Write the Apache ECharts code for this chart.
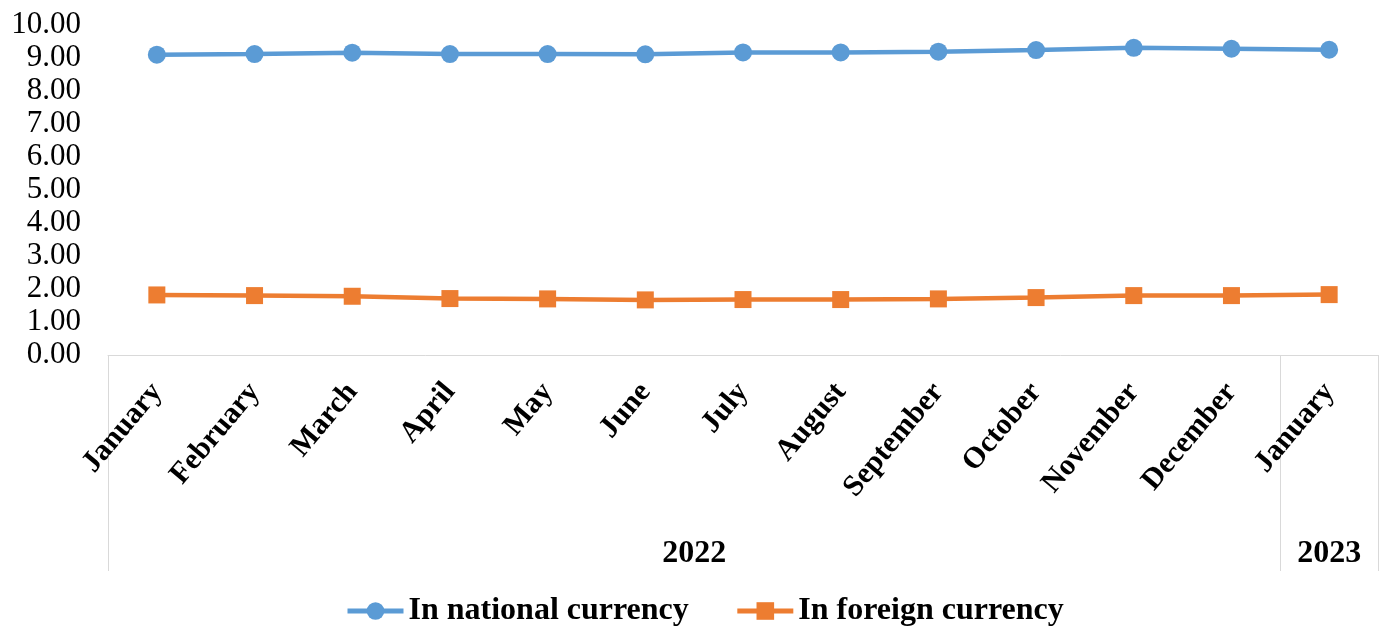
<!DOCTYPE html>
<html>
<head>
<meta charset="utf-8">
<script src="https://cdn.jsdelivr.net/npm/echarts@6/dist/echarts.min.js"></script>
<style>
  html, body { margin: 0; padding: 0; background: #fff; }
  #chart { width: 1383px; height: 626px; }
</style>
</head>
<body>
<div id="chart"></div>
<script>
// chart data
const months = ['January', 'February', 'March', 'April', 'May', 'June', 'July',
  'August', 'September', 'October', 'November', 'December', 'January'];
const years = ['2022', '2023'];
const monthsPerYear = [12, 1];
const nationalCurrency = [9.10, 9.12, 9.16, 9.12, 9.12, 9.11, 9.17, 9.17, 9.19, 9.24, 9.31, 9.28, 9.25];
const foreignCurrency = [1.82, 1.80, 1.78, 1.71, 1.70, 1.67, 1.68, 1.68, 1.70, 1.74, 1.80, 1.80, 1.83];

const FONT = "'Liberation Serif', 'Times New Roman', serif";
const GRID_COLOR = '#d9d9d9';

// year group boundaries and label centres on the month scale
const bounds = [0];
monthsPerYear.forEach((n) => bounds.push(bounds[bounds.length - 1] + n));
const yearCentres = years.map((y, i) => (bounds[i] + bounds[i + 1]) / 2);

const chart = echarts.init(document.getElementById('chart'), null, { renderer: 'canvas' });

chart.setOption({
  animation: false,
  grid: { left: 108, right: 5, top: 25, bottom: 271, containLabel: false },
  legend: {
    top: 590,
    left: 340,
    itemWidth: 56,
    itemHeight: 22,
    itemGap: 46,
    lineStyle: { width: 5 },
    textStyle: { fontFamily: FONT, fontSize: 32, fontWeight: 'bold', color: '#000' }
  },
  xAxis: [
    {
      type: 'category',
      data: months,
      boundaryGap: true,
      axisLine: { show: true, lineStyle: { color: GRID_COLOR, width: 1 } },
      axisTick: { show: false },
      axisLabel: {
        interval: 0,
        rotate: 50,
        margin: 32,
        fontFamily: FONT,
        fontSize: 30,
        fontWeight: 'bold',
        color: '#000'
      }
    },
    {
      type: 'value',
      position: 'bottom',
      min: 0,
      max: bounds[bounds.length - 1],
      axisLine: { show: false },
      splitLine: { show: false },
      axisTick: {
        show: true,
        customValues: bounds,
        length: 216,
        lineStyle: { color: GRID_COLOR, width: 1 }
      },
      axisLabel: {
        customValues: yearCentres,
        margin: 183,
        formatter: (v) => years[yearCentres.indexOf(v)] || '',
        fontFamily: FONT,
        fontSize: 32,
        fontWeight: 'bold',
        color: '#000'
      }
    }
  ],
  yAxis: {
    type: 'value',
    min: 0,
    max: 10,
    interval: 1,
    axisLine: { show: false },
    axisTick: { show: false },
    splitLine: { show: false },
    axisLabel: {
      margin: 27,
      formatter: (v) => v.toFixed(2),
      fontFamily: FONT,
      fontSize: 31,
      color: '#000'
    }
  },
  series: [
    {
      name: 'In national currency',
      type: 'line',
      xAxisIndex: 0,
      data: nationalCurrency,
      symbol: 'circle',
      symbolSize: 18,
      lineStyle: { color: '#5B9BD5', width: 4.5 },
      itemStyle: { color: '#5B9BD5' }
    },
    {
      name: 'In foreign currency',
      type: 'line',
      xAxisIndex: 0,
      data: foreignCurrency,
      symbol: 'rect',
      symbolSize: 17,
      lineStyle: { color: '#ED7D31', width: 4.5 },
      itemStyle: { color: '#ED7D31' }
    }
  ]
});
</script>
</body>
</html>
